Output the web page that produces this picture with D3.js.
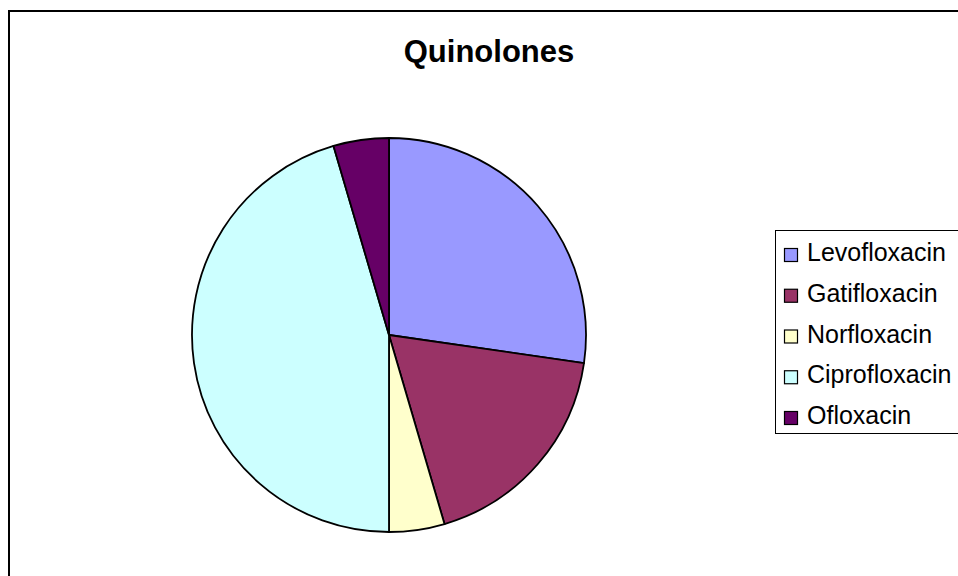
<!DOCTYPE html>
<html><head><meta charset="utf-8">
<script src="https://cdn.jsdelivr.net/npm/d3@7"></script>
<style>html,body{margin:0;padding:0;background:#fff;overflow:hidden}</style>
</head><body>
<svg id="c" width="958" height="576"></svg>
<script>
const categories = ["Levofloxacin","Gatifloxacin","Norfloxacin","Ciprofloxacin","Ofloxacin"];
const values = [12, 8, 2, 20, 2];
const colors = ["#9999FF","#993366","#FFFFCC","#CCFFFF","#660066"];
const title = "Quinolones";

const svg = d3.select("#c");
svg.append("rect").attr("width",958).attr("height",576).attr("fill","#fff");
// outer frame
svg.append("rect").attr("x",9).attr("y",11).attr("width",980).attr("height",600)
  .attr("fill","none").attr("stroke","#000").attr("stroke-width",2);

svg.append("text").attr("x",489).attr("y",62).attr("text-anchor","middle")
  .attr("font-family","Liberation Sans, Arial, sans-serif").attr("font-weight","bold")
  .attr("font-size",31).text(title);

const cx = 389, cy = 335, r = 197;
const pie = d3.pie().sort(null).value(d => d);
const arc = d3.arc().innerRadius(0).outerRadius(r);
const color = d3.scaleOrdinal().domain(categories).range(colors);
const g = svg.append("g").attr("transform",`translate(${cx},${cy})`);
g.selectAll("path").data(pie(values)).enter().append("path")
  .attr("d",arc).attr("fill",(d,i)=>color(categories[i]))
  .attr("stroke","#000").attr("stroke-width",1.8).attr("stroke-linejoin","round");

// legend
const lg = svg.append("g");
lg.append("rect").attr("x",775.5).attr("y",230.5).attr("width",220).attr("height",203)
  .attr("fill","#fff").attr("stroke","#000").attr("stroke-width",1);
const y0 = 261, dy = 40.75;
categories.forEach((c,i)=>{
  const y = y0 + i*dy;
  lg.append("rect").attr("x",784.5).attr("y",y-12.5).attr("width",13).attr("height",13)
    .attr("fill",color(c)).attr("stroke","#000").attr("stroke-width",1.2);
  lg.append("text").attr("x",807).attr("y",y)
    .attr("font-family","Liberation Sans, Arial, sans-serif").attr("font-size",25)
    .text(c);
});
</script>
</body></html>
